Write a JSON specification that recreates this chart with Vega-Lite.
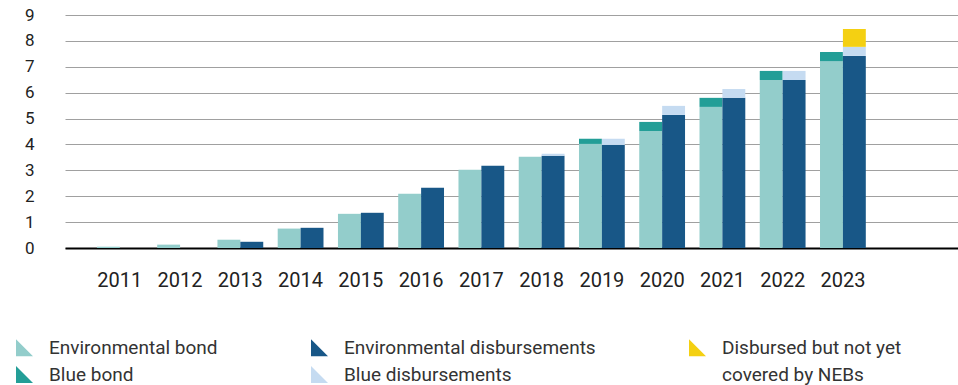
{
  "$schema": "https://vega.github.io/schema/vega-lite/v6.json",
  "width": 893,
  "height": 233,
  "autosize": {"type": "none"},
  "padding": {"left": 65, "top": 15, "right": 0, "bottom": 137},
  "config": {"view": {"stroke": null}, "font": "Roboto"},
  "data": {
    "values": [
      {"year": "2011", "group": "bond", "category": "Environmental bond", "layer": 1, "value": 0.05},
      {"year": "2012", "group": "bond", "category": "Environmental bond", "layer": 1, "value": 0.13},
      {"year": "2013", "group": "bond", "category": "Environmental bond", "layer": 1, "value": 0.32},
      {"year": "2013", "group": "disb", "category": "Environmental disbursements", "layer": 1, "value": 0.24},
      {"year": "2014", "group": "bond", "category": "Environmental bond", "layer": 1, "value": 0.75},
      {"year": "2014", "group": "disb", "category": "Environmental disbursements", "layer": 1, "value": 0.78},
      {"year": "2015", "group": "bond", "category": "Environmental bond", "layer": 1, "value": 1.32},
      {"year": "2015", "group": "disb", "category": "Environmental disbursements", "layer": 1, "value": 1.36},
      {"year": "2016", "group": "bond", "category": "Environmental bond", "layer": 1, "value": 2.10},
      {"year": "2016", "group": "disb", "category": "Environmental disbursements", "layer": 1, "value": 2.33},
      {"year": "2017", "group": "bond", "category": "Environmental bond", "layer": 1, "value": 3.02},
      {"year": "2017", "group": "disb", "category": "Environmental disbursements", "layer": 1, "value": 3.18},
      {"year": "2018", "group": "bond", "category": "Environmental bond", "layer": 1, "value": 3.52},
      {"year": "2018", "group": "disb", "category": "Environmental disbursements", "layer": 1, "value": 3.56},
      {"year": "2018", "group": "disb", "category": "Blue disbursements", "layer": 2, "value": 0.08},
      {"year": "2019", "group": "bond", "category": "Environmental bond", "layer": 1, "value": 4.02},
      {"year": "2019", "group": "bond", "category": "Blue bond", "layer": 2, "value": 0.20},
      {"year": "2019", "group": "disb", "category": "Environmental disbursements", "layer": 1, "value": 3.98},
      {"year": "2019", "group": "disb", "category": "Blue disbursements", "layer": 2, "value": 0.24},
      {"year": "2020", "group": "bond", "category": "Environmental bond", "layer": 1, "value": 4.52},
      {"year": "2020", "group": "bond", "category": "Blue bond", "layer": 2, "value": 0.35},
      {"year": "2020", "group": "disb", "category": "Environmental disbursements", "layer": 1, "value": 5.14},
      {"year": "2020", "group": "disb", "category": "Blue disbursements", "layer": 2, "value": 0.35},
      {"year": "2021", "group": "bond", "category": "Environmental bond", "layer": 1, "value": 5.45},
      {"year": "2021", "group": "bond", "category": "Blue bond", "layer": 2, "value": 0.35},
      {"year": "2021", "group": "disb", "category": "Environmental disbursements", "layer": 1, "value": 5.80},
      {"year": "2021", "group": "disb", "category": "Blue disbursements", "layer": 2, "value": 0.34},
      {"year": "2022", "group": "bond", "category": "Environmental bond", "layer": 1, "value": 6.49},
      {"year": "2022", "group": "bond", "category": "Blue bond", "layer": 2, "value": 0.35},
      {"year": "2022", "group": "disb", "category": "Environmental disbursements", "layer": 1, "value": 6.49},
      {"year": "2022", "group": "disb", "category": "Blue disbursements", "layer": 2, "value": 0.35},
      {"year": "2023", "group": "bond", "category": "Environmental bond", "layer": 1, "value": 7.22},
      {"year": "2023", "group": "bond", "category": "Blue bond", "layer": 2, "value": 0.35},
      {"year": "2023", "group": "disb", "category": "Environmental disbursements", "layer": 1, "value": 7.42},
      {"year": "2023", "group": "disb", "category": "Blue disbursements", "layer": 2, "value": 0.35},
      {"year": "2023", "group": "disb", "category": "Disbursed but not yet", "layer": 3, "value": 0.69}
    ]
  },
  "mark": {"type": "bar"},
  "encoding": {
    "x": {
      "field": "year",
      "type": "nominal",
      "scale": {
        "domain": ["2011", "2012", "2013", "2014", "2015", "2016", "2017", "2018", "2019", "2020", "2021", "2022", "2023", "2024"],
        "paddingInner": 0.24,
        "paddingOuter": 0.53
      },
      "axis": {
        "title": null,
        "labelAngle": 0,
        "ticks": false,
        "domainColor": "#000000",
        "domainWidth": 2,
        "labelFontSize": 20,
        "labelColor": "#222222",
        "labelPadding": 22,
        "labelExpr": "datum.value == '2024' ? '' : datum.label",
        "grid": false
      }
    },
    "xOffset": {
      "field": "group",
      "type": "nominal",
      "scale": {"domain": ["bond", "disb"], "paddingInner": 0, "paddingOuter": 0}
    },
    "y": {
      "field": "value",
      "type": "quantitative",
      "stack": "zero",
      "scale": {"domain": [0, 9], "nice": false},
      "axis": {
        "title": null,
        "values": [0, 1, 2, 3, 4, 5, 6, 7, 8, 9],
        "ticks": false,
        "domain": false,
        "labelPadding": 31,
        "labelFontSize": 17,
        "labelColor": "#222222",
        "gridColor": "#a0a0a0",
        "gridWidth": 1
      }
    },
    "color": {
      "field": "category",
      "type": "nominal",
      "scale": {
        "domain": ["Environmental bond", "Environmental disbursements", "Disbursed but not yet", "Blue bond", "Blue disbursements", "covered by NEBs"],
        "range": ["#93cdcb", "#185787", "#f4d012", "#239e97", "#c5dbf1", "#ffffff"]
      },
      "legend": {
        "orient": "none",
        "legendX": -50,
        "legendY": 323,
        "direction": "horizontal",
        "columns": 3,
        "title": null,
        "labelFontSize": 19,
        "labelColor": "#333333",
        "labelLimit": 400,
        "symbolType": "M -1 -1 L -1 1 L 1 1 Z",
        "symbolSize": 290,
        "symbolStrokeWidth": 0,
        "symbolOpacity": 1,
        "columnPadding": 92,
        "rowPadding": 7,
        "labelOffset": 15
      }
    },
    "order": {"field": "layer", "type": "quantitative"}
  }
}
